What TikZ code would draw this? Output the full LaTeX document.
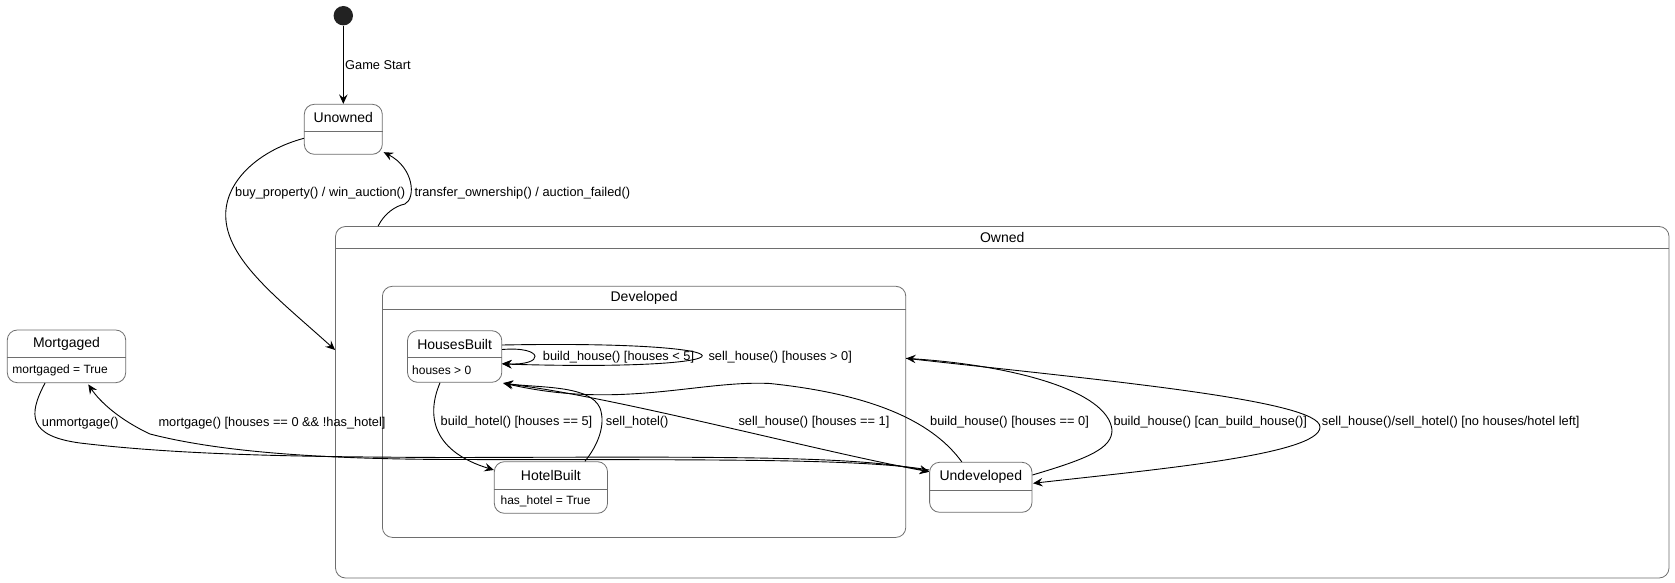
\documentclass[tikz,border=0pt]{standalone}
\usepackage{fontspec}
\setmainfont{Liberation Sans}
\usetikzlibrary{arrows.meta}
\definecolor{bordercol}{RGB}{110,110,110}
\definecolor{initcol}{RGB}{34,34,34}
\tikzset{
  statebox/.style={draw=bordercol, fill=white, rounded corners=10pt, line width=0.8pt, inner sep=0pt},
  divline/.style={draw=bordercol, line width=0.8pt},
  stname/.style={inner sep=0pt, font=\fontsize{14}{16}\selectfont},
  attrtext/.style={inner sep=0pt, anchor=west, font=\fontsize{12}{14}\selectfont},
  lbl/.style={inner sep=0pt, anchor=west, font=\fontsize{12.8}{15}\selectfont},
  trans/.style={draw=black, line width=0.9pt, -{Stealth[length=9.5pt,width=8.5pt,inset=3.5pt]}},
}
\begin{document}
\begin{tikzpicture}[x=1pt,y=-1pt]
\fill[white] (0,0) rectangle (1675,583);
\useasboundingbox (0,0) rectangle (1675,583);

% composite states
\node[statebox, minimum width=1333.5pt, minimum height=351.5pt] (Owned) at (1002.25,402.25) {};
\draw[divline] (Owned.west |- 0,248) -- (Owned.east |- 0,248);
\node[stname] (OwnedT) at (1002.25,237.3) {Owned};

\node[statebox, minimum width=523.4pt, minimum height=251.1pt] (Developed) at (644.1,411.85) {};
\draw[divline] (Developed.west |- 0,309.3) -- (Developed.east |- 0,309.3);
\node[stname] (DevelopedT) at (644.1,298) {Developed};

% initial
\node[circle, fill=initcol, minimum size=19.4pt, inner sep=0pt] (init) at (343.3,15.7) {};

% simple states
\node[statebox, minimum width=78pt, minimum height=50pt] (Unowned) at (343.3,129.3) {};
\draw[divline] (Unowned.west |- 0,131) -- (Unowned.east |- 0,131);
\node[stname] (UnownedT) at (343.3,117.7) {Unowned};

\node[statebox, minimum width=118.4pt, minimum height=52.7pt] (Mortgaged) at (66.5,356.35) {};
\draw[divline] (Mortgaged.west |- 0,357.3) -- (Mortgaged.east |- 0,357.3);
\node[stname] (MortgagedT) at (66.5,344) {Mortgaged};
\node[attrtext] (MortgagedA) at (12.3,370.5) {mortgaged = True};

\node[statebox, minimum width=94.3pt, minimum height=51.6pt] (HousesBuilt) at (454.65,356.5) {};
\draw[divline] (HousesBuilt.west |- 0,357.7) -- (HousesBuilt.east |- 0,357.7);
\node[stname] (HousesBuiltT) at (454.65,344.5) {HousesBuilt};
\node[attrtext] (HousesBuiltA) at (412,370.3) {houses > 0};

\node[statebox, minimum width=113.2pt, minimum height=51.6pt] (HotelBuilt) at (550.9,487.5) {};
\draw[divline] (HotelBuilt.west |- 0,489) -- (HotelBuilt.east |- 0,489);
\node[stname] (HotelBuiltT) at (550.9,475.5) {HotelBuilt};
\node[attrtext] (HotelBuiltA) at (500.4,501.3) {has\_hotel = True};

\node[statebox, minimum width=102.4pt, minimum height=50pt] (Undeveloped) at (980.8,487.3) {};
\draw[divline] (Undeveloped.west |- 0,490.3) -- (Undeveloped.east |- 0,490.3);
\node[stname] (UndevelopedT) at (980.8,476.5) {Undeveloped};

% transitions
\draw[trans] (init) -- (Unowned);
\draw[trans] ([yshift=-9pt]Unowned.west) .. controls (260,150) and (225.7,180) .. (225.7,215)
  .. controls (225.7,260) and (280,300) .. (Owned.west |- 0,350);
\draw[trans] ([xshift=43pt]Owned.north west) .. controls (384,214) and (395,206) .. (405,204)
  .. controls (416,198) and (414,168) .. ([xshift=1pt,yshift=2.5pt]Unowned.south east);

\draw[trans] ([yshift=7pt]HousesBuilt.east) .. controls (545,346) and (545,366) .. ([yshift=-7pt]HousesBuilt.east);
\draw[trans] ([yshift=11.5pt]HousesBuilt.east) .. controls (768,340) and (768,372) .. ([yshift=-7.5pt]HousesBuilt.east);

\draw[trans] ([xshift=-14.6pt]HousesBuilt.south) .. controls (425,418) and (435,452) .. ([yshift=17.5pt]HotelBuilt.west);
\draw[trans] ([xshift=34pt]HotelBuilt.north) .. controls (598,445) and (606,425) .. (600,408)
  .. controls (590,385) and (540,388) .. ([xshift=1.5pt,yshift=-0.5pt]HousesBuilt.south east);

\draw[trans] ([xshift=1.5pt,yshift=-1pt]HousesBuilt.south east) .. controls (600,393) and (820,452) .. ([yshift=15.6pt]Undeveloped.west);
\draw[trans] ([xshift=-19pt]Undeveloped.north) .. controls (935,425) and (880,395) .. (770,383.5)
  .. controls (700,380) and (620,410) .. ([xshift=1pt,yshift=-0.3pt]HousesBuilt.south east);

\draw[trans] ([xshift=-21.5pt]Mortgaged.south) .. controls (28,415) and (28,436) .. (80,443)
  .. controls (180,455) and (300,457) .. (450,457.5)
  .. controls (700,457) and (860,455) .. ([yshift=15.6pt]Undeveloped.west);
\draw[trans] ([yshift=17.3pt]Undeveloped.west) .. controls (860,458) and (700,460) .. (450,459.5)
  .. controls (320,459) and (220,452) .. (150,434)
  .. controls (120,420) and (100,402) .. ([xshift=21.8pt,yshift=-1.3pt]Mortgaged.south);

\draw[trans] ([yshift=12.3pt]Undeveloped.east) .. controls (1090,458) and (1112,448) .. (1112,430)
  .. controls (1108,390) and (1010,365) .. ([yshift=53.5pt]Developed.east);
\draw[trans] ([yshift=53.5pt]Developed.east) .. controls (1100,380) and (1320,400) .. (1320,427)
  .. controls (1320,455) and (1150,470) .. ([xshift=0.7pt,yshift=4pt]Undeveloped.east);

% labels
\node[lbl] (lGame) at (345,65.3) {Game Start};
\node[lbl] (lBuy) at (235,193.3) {buy\_property() / win\_auction()};
\node[lbl] (lTransfer) at (414.3,193.3) {transfer\_ownership() / auction\_failed()};
\node[lbl] (lBh5) at (542.7,357) {build\_house() [houses < 5]};
\node[lbl] (lSh0) at (708.3,357) {sell\_house() [houses > 0]};
\node[lbl] (lBhotel) at (440.5,422) {build\_hotel() [houses == 5]};
\node[lbl] (lShotel) at (605.7,422) {sell\_hotel()};
\node[lbl] (lSh1) at (738.3,422) {sell\_house() [houses == 1]};
\node[lbl] (lBh0) at (930,422) {build\_house() [houses == 0]};
\node[lbl] (lBhcan) at (1113.3,422) {build\_house() [can\_build\_house()]};
\node[lbl] (lShno) at (1321.7,422) {sell\_house()/sell\_hotel() [no houses/hotel left]};
\node[lbl] (lUnm) at (41.7,422.7) {unmortgage()};
\node[lbl] (lMort) at (158.3,422.7) {mortgage() [houses == 0 \&\& !has\_hotel]};
\end{tikzpicture}
\end{document}
